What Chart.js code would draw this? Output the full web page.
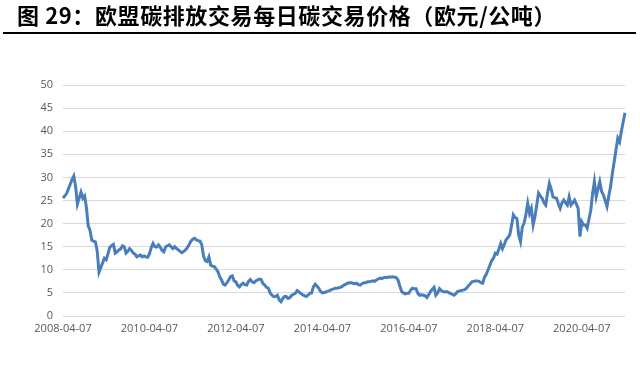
<!DOCTYPE html>
<html>
<head>
<meta charset="utf-8">
<script src="https://cdn.jsdelivr.net/npm/chart.js@4.4.0/dist/chart.umd.min.js"></script>
<style>
  html, body { margin: 0; padding: 0; background: #fff; }
  #wrap { position: relative; width: 640px; height: 391px; overflow: hidden; }
  #title { position: absolute; left: 17px; top: 0px; font-family: "Noto Sans CJK SC", sans-serif; font-weight: 700; font-size: 22px; letter-spacing: 0.6px; line-height: 29px; color: #000; white-space: nowrap; }
  #rule { position: absolute; left: 3px; top: 32px; width: 633px; height: 2px; background: #000; }
  #c { position: absolute; left: 0; top: 0; }
</style>
</head>
<body>
<div id="wrap">
  <canvas id="c" width="640" height="391"></canvas>
  <div id="title">图&nbsp;29：欧盟碳排放交易每日碳交易价格（欧元/公吨）</div>
  <div id="rule"></div>
</div>
<script>
// Semi-monthly observations from 2008-04-07 to 2021-04-07 (two per month: 07 and 21)
const startYear = 2008, startMonth = 4;
const tickLabels = ['2008-04-07','2010-04-07','2012-04-07','2014-04-07','2016-04-07','2018-04-07','2020-04-07'];
const yTicks = [0,5,10,15,20,25,30,35,40,45,50];

const prices2008_09 = [ // 2008-04 .. 2009-03
  25.5,26.0, 26.5,27.5, 28.5,29.5, 30.3,28.0, 24.2,25.5, 26.8,25.5,
  26.0,23.5, 19.5,18.5, 16.4,16.2, 16.0,14.0, 9.5,10.5, 11.5,12.5];
const prices2009_10 = [ // 2009-04 .. 2010-03
  12.2,13.5, 14.9,15.2, 15.5,13.6, 13.9,14.3, 14.5,15.2, 15.0,13.6,
  14.0,14.6, 14.2,13.6, 13.4,12.8, 13.0,13.2, 12.8,13.0, 12.8,12.7];
const prices2010_11 = [ // 2010-04 .. 2011-03
  13.5,14.8, 15.7,15.0, 14.9,15.4, 14.9,14.2, 13.9,15.0, 15.2,15.4,
  15.0,14.6, 15.0,14.6, 14.3,14.0, 13.7,14.0, 14.3,14.8, 15.4,16.2];
const prices2011_12 = [ // 2011-04 .. 2012-03
  16.6,16.8, 16.5,16.3, 16.2,15.5, 13.0,12.0, 11.8,12.8, 11.0,10.8,
  10.7,10.2, 9.6,8.5, 7.8,6.9, 6.7,7.2, 7.8,8.5, 8.7,7.6];
const prices2012_13 = [ // 2012-04 .. 2013-03
  7.4,6.6, 6.3,6.8, 7.1,6.8, 6.7,7.5, 7.9,7.4, 7.2,7.6,
  7.8,8.0, 7.9,7.0, 6.7,6.2, 6.0,5.0, 4.5,4.2, 4.2,4.5];
const prices2013_14 = [ // 2013-04 .. 2014-03
  3.5,3.1, 3.8,4.2, 4.2,3.8, 4.0,4.5, 4.7,4.9, 5.5,5.2,
  4.9,4.6, 4.4,4.2, 4.5,4.9, 5.0,6.3, 6.9,6.5, 6.0,5.3];
const prices2014_15 = [ // 2014-04 .. 2015-03
  5.0,5.1, 5.2,5.4, 5.5,5.7, 5.8,6.0, 6.0,6.1, 6.2,6.4,
  6.7,6.9, 7.1,7.2, 7.2,7.1, 7.0,7.1, 6.8,6.7, 7.0,7.2];
const prices2015_16 = [ // 2015-04 .. 2016-03
  7.2,7.4, 7.4,7.5, 7.6,7.5, 7.8,8.0, 8.2,8.1, 8.3,8.4,
  8.3,8.5, 8.4,8.5, 8.4,8.3, 7.8,6.5, 5.3,5.0, 4.8,4.9];
const prices2016_17 = [ // 2016-04 .. 2017-03
  4.9,5.6, 6.0,5.9, 5.9,4.9, 4.5,4.6, 4.5,4.4, 4.0,4.6,
  5.3,5.8, 6.2,4.5, 5.0,5.9, 5.5,5.3, 5.2,5.3, 5.1,4.9];
const prices2017_18 = [ // 2017-04 .. 2018-03
  4.7,4.5, 4.8,5.3, 5.4,5.5, 5.6,5.7, 6.0,6.5, 6.9,7.4,
  7.5,7.6, 7.6,7.5, 7.2,7.1, 8.4,9.0, 10.0,11.0, 12.0,12.5];
const prices2018_19 = [ // 2018-04 .. 2019-03
  13.6,13.4, 14.5,15.7, 14.6,15.5, 16.5,17.0, 17.5,19.5, 21.9,21.3,
  21.1,17.5, 16.1,19.3, 20.1,22.0, 24.4,22.2, 23.3,19.7, 21.5,24.0];
const prices2019_20 = [ // 2019-04 .. 2020-03
  26.6,26.0, 25.5,24.5, 24.0,26.6, 28.7,27.5, 25.8,25.6, 25.5,24.3,
  23.3,24.5, 25.1,24.5, 24.0,25.8, 24.0,24.5, 25.1,24.2, 23.3,17.2];
const prices2020_21 = [ // 2020-04 .. 2021-04
  20.4,19.7, 19.7,19.0, 21.0,22.9, 26.5,29.1, 25.8,27.5, 29.1,27.0,
  26.2,25.0, 23.7,26.0, 28.0,30.9, 33.4,36.0, 38.5,37.7, 40.0,42.0,
  44.0];

const prices = [].concat(prices2008_09, prices2009_10, prices2010_11, prices2011_12,
  prices2012_13, prices2013_14, prices2014_15, prices2015_16, prices2016_17,
  prices2017_18, prices2018_19, prices2019_20, prices2020_21);

const categories = [];
for (let i = 0; i < prices.length; i++) {
  const mIdx = startMonth - 1 + Math.floor(i / 2);
  const y = startYear + Math.floor(mIdx / 12);
  const m = (mIdx % 12) + 1;
  const d = (i % 2 === 0) ? '07' : '21';
  categories.push(y + '-' + String(m).padStart(2, '0') + '-' + d);
}

new Chart(document.getElementById('c'), {
  type: 'line',
  data: {
    labels: categories,
    datasets: [{
      data: prices,
      borderColor: '#4a7ebb',
      borderWidth: 3,
      pointRadius: 0,
      tension: 0,
      fill: false
    }]
  },
  options: {
    responsive: false,
    animation: false,
    layout: { padding: { left: 0, right: 15, top: 85, bottom: 0 } },
    plugins: { legend: { display: false }, tooltip: { enabled: false } },
    scales: {
      x: {
        type: 'category',
        offset: false,
        grid: { display: false, drawTicks: false },
        border: { display: false },
        afterFit: s => { s.height = 75; },
        ticks: {
          autoSkip: false,
          maxRotation: 0,
          minRotation: 0,
          padding: 6,
          color: '#595959',
          font: { family: 'Open Sans, Noto Sans, sans-serif', size: 11 },
          callback: function (v) {
            const l = this.getLabelForValue(v);
            return tickLabels.includes(l) ? l : '';
          }
        }
      },
      y: {
        min: 0,
        max: 50,
        afterFit: s => { s.width = 63; },
        afterBuildTicks: s => { s.ticks = yTicks.map(v => ({ value: v })); },
        grid: { color: '#d9d9d9', lineWidth: 1, drawTicks: false },
        border: { display: false },
        ticks: {
          padding: 10,
          color: '#595959',
          font: { family: 'Open Sans, Noto Sans, sans-serif', size: 11 }
        }
      }
    }
  }
});
</script>
</body>
</html>
